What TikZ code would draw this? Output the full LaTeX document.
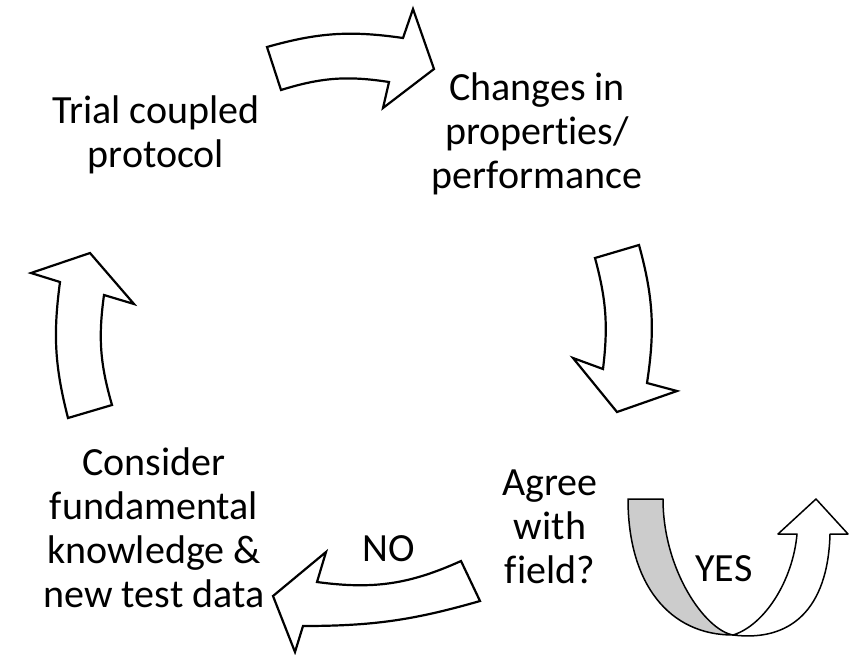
\documentclass[tikz,border=0pt]{standalone}
\usepackage{fontspec}
\setmainfont[Ligatures=CommonOff]{Carlito}
\usetikzlibrary{positioning}
\definecolor{bandgray}{RGB}{204,204,204}
\begin{document}
\begin{tikzpicture}[x=1pt,y=-1pt,
  txt/.style={align=center,inner sep=0pt,anchor=base,font=\fontsize{40}{44}\selectfont},
  blk/.style={draw,line width=2.2pt,miter limit=20,fill=white},
  uarr/.style={draw,line width=1.5pt,line join=round}]
\useasboundingbox (0,0) rectangle (861,654);
\node (trial) [txt] at (156,167) {Trial coupled\\protocol};
\node (chg) [txt] at (537,188) {Changes in\\properties/\\performance};
\node (agree) [txt] at (550,583) {Agree\\with\\field?};
\node (cons) [txt] at (154,607) {Consider\\fundamental\\knowledge \&\\new test data};
\node (no) [txt] at (389,561) {NO};
\node (yes) [txt] at (724,581) {YES};
% block arrows round the cycle
\draw[blk] (267,47) to[bend left=12] (403,38) -- (413,9) -- (434,69) -- (383,108)
  -- (389,82) to[bend right=13] (281,90) -- cycle;
\draw[blk] (639,245) to[bend left=12] (647,383) -- (677,391) -- (617,412) -- (573,358)
  -- (603,369) to[bend right=11] (595,258) -- cycle;
\draw[blk] (461,561) to[bend left=16] (317,582) -- (326,552) -- (273,596) -- (295,652)
  -- (303,626) to[bend right=8] (480,601) -- cycle;
\draw[blk] (68,418) to[bend left=11] (60,282) -- (31,273) -- (90,253) -- (134,304)
  -- (104,295) to[bend right=12] (112,405) -- cycle;
% u-turn arrow
\draw[uarr,fill=bandgray] (628,499) -- (663,499) .. controls (663,570) and (705,630) .. (733,635)
  .. controls (670,635) and (628,585) .. (628,499) -- cycle;
\draw[uarr,fill=white] (733,635) .. controls (765,625) and (793,580) .. (797,534) -- (778,534)
  -- (816,499) -- (848,534) -- (830,534) .. controls (828,610) and (790,642) .. (733,635) -- cycle;
\end{tikzpicture}
\end{document}
